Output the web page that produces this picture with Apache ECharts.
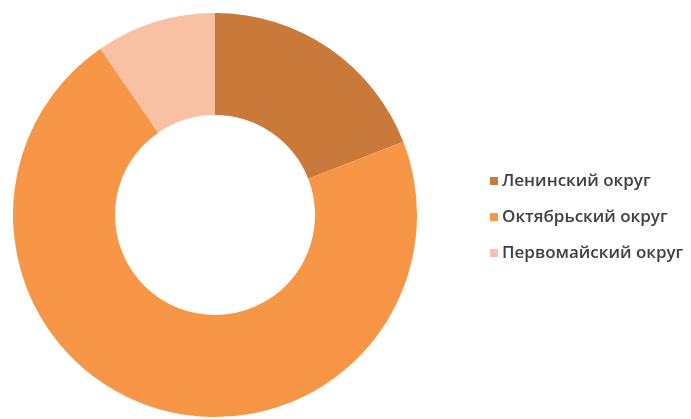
<!DOCTYPE html>
<html><head><meta charset="utf-8">
<script src="https://cdn.jsdelivr.net/npm/echarts@6/dist/echarts.min.js"></script>
<style>html,body{margin:0;padding:0;background:#fff}#c{width:691px;height:419px}</style>
</head><body><div id="c"></div>
<script>
const categories = ['Ленинский округ', 'Октябрьский округ', 'Первомайский округ'];
const values = [19.1, 71.3, 9.6];
const colors = ['#C9793A', '#F79646', '#F9C1A3'];

const chart = echarts.init(document.getElementById('c'));
chart.setOption({
  animation: false,
  color: colors,
  legend: {
    orient: 'vertical',
    left: 485,
    top: 167,
    itemWidth: 8,
    itemHeight: 8,
    itemGap: 18,
    icon: 'rect',
    textStyle: { fontFamily: 'Open Sans', fontSize: 17, fontWeight: 600, lineHeight: 18, color: '#3f3f3f', padding: [0,0,0,-1] },
    data: categories
  },
  series: [{
    type: 'pie',
    center: [215, 215],
    radius: [100, 202],
    startAngle: 90,
    clockwise: true,
    label: { show: false },
    labelLine: { show: false },
    itemStyle: { borderWidth: 0 },
    data: categories.map((n, i) => ({ name: n, value: values[i] }))
  }]
});
</script></body></html>
